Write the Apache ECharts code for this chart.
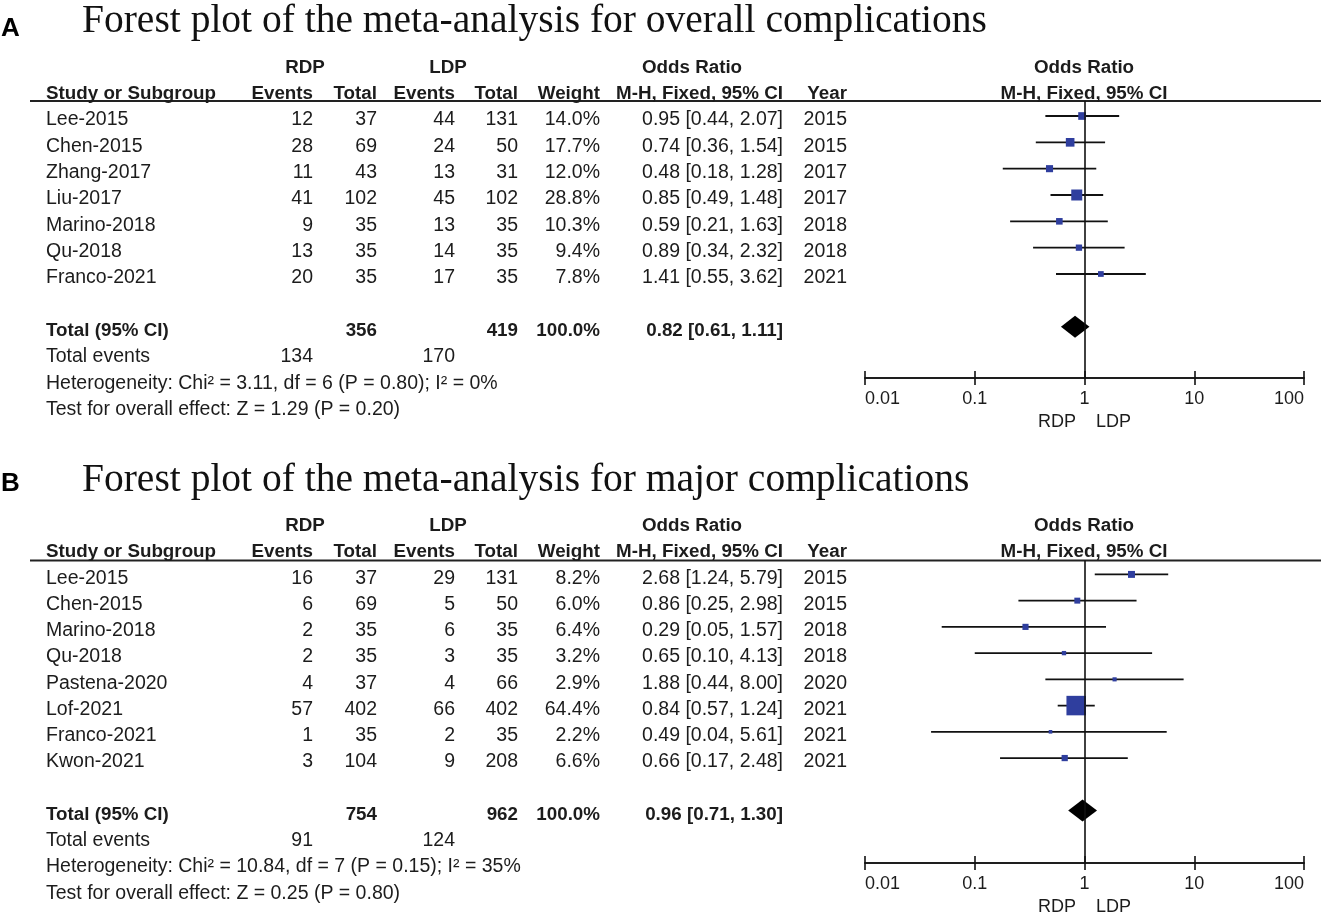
<!DOCTYPE html>
<html><head><meta charset="utf-8">
<script src="https://cdn.jsdelivr.net/npm/echarts@6/dist/echarts.min.js"></script>
<style>html,body{margin:0;padding:0;background:#fff}#c{width:1321px;height:917px}</style>
</head><body><div id="c"></div><script>
// ---------------- DATA ----------------
const studiesA   = ['Lee-2015','Chen-2015','Zhang-2017','Liu-2017','Marino-2018','Qu-2018','Franco-2021'];
const rdpEventsA = [12, 28, 11, 41, 9, 13, 20];
const rdpTotalA  = [37, 69, 43, 102, 35, 35, 35];
const ldpEventsA = [44, 24, 13, 45, 13, 14, 17];
const ldpTotalA  = [131, 50, 31, 102, 35, 35, 35];
const weightA    = [14.0, 17.7, 12.0, 28.8, 10.3, 9.4, 7.8];
const orA        = [0.95, 0.74, 0.48, 0.85, 0.59, 0.89, 1.41];
const loA        = [0.44, 0.36, 0.18, 0.49, 0.21, 0.34, 0.55];
const hiA        = [2.07, 1.54, 1.28, 1.48, 1.63, 2.32, 3.62];
const yearA      = [2015, 2015, 2017, 2017, 2018, 2018, 2021];
const totalCiA   = [0.82, 0.61, 1.11];      // OR, lower, upper
const totalNA    = [356, 419];              // RDP total, LDP total
const totalEvA   = [134, 170];              // RDP events, LDP events
const hetA  = 'Heterogeneity: Chi\u00b2 = 3.11, df = 6 (P = 0.80); I\u00b2 = 0%';
const testA = 'Test for overall effect: Z = 1.29 (P = 0.20)';
const titleA = 'Forest plot of the meta-analysis for overall complications';

const studiesB   = ['Lee-2015','Chen-2015','Marino-2018','Qu-2018','Pastena-2020','Lof-2021','Franco-2021','Kwon-2021'];
const rdpEventsB = [16, 6, 2, 2, 4, 57, 1, 3];
const rdpTotalB  = [37, 69, 35, 35, 37, 402, 35, 104];
const ldpEventsB = [29, 5, 6, 3, 4, 66, 2, 9];
const ldpTotalB  = [131, 50, 35, 35, 66, 402, 35, 208];
const weightB    = [8.2, 6.0, 6.4, 3.2, 2.9, 64.4, 2.2, 6.6];
const orB        = [2.68, 0.86, 0.29, 0.65, 1.88, 0.84, 0.49, 0.66];
const loB        = [1.24, 0.25, 0.05, 0.10, 0.44, 0.57, 0.04, 0.17];
const hiB        = [5.79, 2.98, 1.57, 4.13, 8.00, 1.24, 5.61, 2.48];
const yearB      = [2015, 2015, 2018, 2018, 2020, 2021, 2021, 2021];
const totalCiB   = [0.96, 0.71, 1.30];
const totalNB    = [754, 962];
const totalEvB   = [91, 124];
const hetB  = 'Heterogeneity: Chi\u00b2 = 10.84, df = 7 (P = 0.15); I\u00b2 = 35%';
const testB = 'Test for overall effect: Z = 0.25 (P = 0.80)';
const titleB = 'Forest plot of the meta-analysis for major complications';

const axisTicks = [0.01, 0.1, 1, 10, 100];
const groupLabels = ['RDP', 'LDP'];

// ---------------- LAYOUT / STYLE ----------------
const FONT = "'Liberation Sans', Arial, Helvetica, sans-serif";
const FS = 19.5, FSB = 18.8;
const TXT = '#1c1c1c';
const BLUE = '#2f3e9e';
const ROW = 26.33;
const PLOT_LEFT = 865, PLOT_RIGHT = 1304;
const COL = {name:46, rdpE:313, rdpT:377, ldpE:455, ldpT:518, weight:600, or:783, year:847,
             rdpHead:305, ldpHead:448, orHead:692, plotHead:1084};

const panels = [
  {studies:studiesA, rE:rdpEventsA, rT:rdpTotalA, lE:ldpEventsA, lT:ldpTotalA, w:weightA, or:orA, lo:loA, hi:hiA, yr:yearA,
   tci:totalCiA, tn:totalNA, tev:totalEvA, het:hetA, test:testA, title:titleA, letter:'A',
   top:101, yMin:-0.57, yMax:9.95, titleY:22, letterY:29, maxSide:11},
  {studies:studiesB, rE:rdpEventsB, rT:rdpTotalB, lE:ldpEventsB, lT:ldpTotalB, w:weightB, or:orB, lo:loB, hi:hiB, yr:yearB,
   tci:totalCiB, tn:totalNB, tev:totalEvB, het:hetB, test:testB, title:titleB, letter:'B',
   top:560.5, yMin:-0.53, yMax:11.0, titleY:481, letterY:484, maxSide:19.5}
];

const fmtOR = (o,l,h) => o.toFixed(2) + ' [' + l.toFixed(2) + ', ' + h.toFixed(2) + ']';

const grids = [], xAxes = [], yAxes = [], series = [], graphics = [];

panels.forEach((p, gi) => {
  const height = (p.yMax - p.yMin) * ROW;
  grids.push({left: PLOT_LEFT, width: PLOT_RIGHT - PLOT_LEFT, top: p.top, height: height});
  const baseX = {
    type:'log', logBase:10, min:axisTicks[0], max:axisTicks[axisTicks.length-1], gridIndex: gi, position:'bottom',
    splitLine:{show:false}, minorTick:{show:false},
    axisLine:{show:true, onZero:false, lineStyle:{color:'#111', width:1.6}},
  };
  xAxes.push(Object.assign({}, baseX, {
    axisTick:{show:true, inside:false, length:7, lineStyle:{color:'#111', width:1.6}},
    axisLabel:{show:true, margin:12, fontFamily:FONT, fontSize:18, color:TXT,
      alignMinLabel:'left', alignMaxLabel:'right',
      formatter: v => String(parseFloat(Number(v).toPrecision(6)))},
    name: groupLabels[0] + '    ' + groupLabels[1], nameLocation:'middle', nameGap:35,
    nameTextStyle:{fontFamily:FONT, fontSize:18, color:TXT}
  }));
  xAxes.push(Object.assign({}, baseX, {
    axisTick:{show:true, inside:true, length:7, lineStyle:{color:'#111', width:1.6}},
    axisLabel:{show:false}
  }));
  yAxes.push({type:'value', gridIndex:gi, inverse:true, min:p.yMin, max:p.yMax, show:false});
  const xi = gi*2;

  // vertical line of no effect
  series.push({type:'line', xAxisIndex:xi, yAxisIndex:gi, data:[], z:1,
    markLine:{silent:true, symbol:'none', label:{show:false}, animation:false,
      lineStyle:{color:'#111', width:1.6, type:'solid'}, data:[{xAxis:1}]}});

  // study CIs + squares
  const maxW = Math.max.apply(null, p.w);
  series.push({type:'custom', xAxisIndex:xi, yAxisIndex:gi, z:3, clip:false,
    encode:{x:0, y:3},
    data: p.studies.map((s,i) => [p.or[i], p.lo[i], p.hi[i], i, p.w[i]]),
    renderItem: (params, api) => {
      const row = api.value(3);
      const a = api.coord([api.value(1), row]), b = api.coord([api.value(2), row]), c = api.coord([api.value(0), row]);
      const s = Math.max(3.5, p.maxSide * Math.sqrt(api.value(4) / maxW));
      return {type:'group', children:[
        {type:'line', shape:{x1:a[0], y1:a[1], x2:b[0], y2:b[1]}, style:{stroke:'#111', lineWidth:1.8}},
        {type:'rect', shape:{x:c[0]-s/2, y:c[1]-s/2, width:s, height:s}, style:{fill:BLUE}}
      ]};
    }});

  // pooled diamond
  const n = p.studies.length;
  series.push({type:'custom', xAxisIndex:xi, yAxisIndex:gi, z:4, clip:false,
    encode:{x:0, y:3},
    data: [[p.tci[0], p.tci[1], p.tci[2], n + 1]],
    renderItem: (params, api) => {
      const row = api.value(3);
      const a = api.coord([api.value(1), row]), b = api.coord([api.value(2), row]), c = api.coord([api.value(0), row]);
      return {type:'polygon', shape:{points:[[a[0],a[1]],[c[0],c[1]-11],[b[0],b[1]],[c[0],c[1]+11]]}, style:{fill:'#000'}};
    }});

  // table text rows
  const textRows = [];
  const T = (t, x, align, bold) => ({t:String(t), x:x, align:align||'right', bold:!!bold});
  textRows.push({row:-2, cells:[T(groupLabels[0], COL.rdpHead,'center',true), T(groupLabels[1], COL.ldpHead,'center',true),
    T('Odds Ratio', COL.orHead,'center',true), T('Odds Ratio', COL.plotHead,'center',true)]});
  textRows.push({row:-1, cells:[T('Study or Subgroup', COL.name,'left',true), T('Events', COL.rdpE,'right',true),
    T('Total', COL.rdpT,'right',true), T('Events', COL.ldpE,'right',true), T('Total', COL.ldpT,'right',true),
    T('Weight', COL.weight,'right',true), T('M-H, Fixed, 95% CI', COL.or,'right',true), T('Year', COL.year,'right',true),
    T('M-H, Fixed, 95% CI', COL.plotHead,'center',true)]});
  p.studies.forEach((s,i) => textRows.push({row:i, cells:[T(s, COL.name,'left'), T(p.rE[i], COL.rdpE), T(p.rT[i], COL.rdpT),
    T(p.lE[i], COL.ldpE), T(p.lT[i], COL.ldpT), T(p.w[i].toFixed(1)+'%', COL.weight),
    T(fmtOR(p.or[i], p.lo[i], p.hi[i]), COL.or), T(p.yr[i], COL.year)]}));
  textRows.push({row:n+1, cells:[T('Total (95% CI)', COL.name,'left',true), T(p.tn[0], COL.rdpT,'right',true),
    T(p.tn[1], COL.ldpT,'right',true), T('100.0%', COL.weight,'right',true),
    T(fmtOR(p.tci[0], p.tci[1], p.tci[2]), COL.or,'right',true)]});
  textRows.push({row:n+2, cells:[T('Total events', COL.name,'left'), T(p.tev[0], COL.rdpE), T(p.tev[1], COL.ldpE)]});
  textRows.push({row:n+3, cells:[T(p.het, COL.name,'left')]});
  textRows.push({row:n+4, cells:[T(p.test, COL.name,'left')]});

  series.push({type:'custom', xAxisIndex:xi, yAxisIndex:gi, z:5, clip:false, silent:true,
    encode:{x:0, y:1},
    data: textRows.map((r, k) => [1, r.row, k]),
    renderItem: (params, api) => {
      const r = textRows[api.value(2)];
      const y = api.coord([1, api.value(1)])[1] + 4;
      return {type:'group', children: r.cells.map(c => ({type:'text', style:{
        text:c.t, x:c.x, y:y, align:c.align, verticalAlign:'middle',
        font:(c.bold ? 'bold ' + FSB : FS) + 'px ' + FONT, fill:TXT}}))};
    }});

  // header rule, title, panel letter
  graphics.push({type:'line', shape:{x1:30, y1:p.top, x2:1321, y2:p.top}, style:{stroke:'#222', lineWidth:2}});
  graphics.push({type:'text', style:{text:p.title, x:82, y:p.titleY, verticalAlign:'middle',
    font:"39.5px 'Liberation Serif', 'Times New Roman', serif", fill:'#111'}});
  graphics.push({type:'text', style:{text:p.letter, x:1, y:p.letterY, verticalAlign:'middle',
    font:"bold 26px " + FONT, fill:'#000'}});
});

const chart = echarts.init(document.getElementById('c'), null, {renderer:'canvas'});
chart.setOption({
  animation:false,
  backgroundColor:'#fff',
  grid: grids, xAxis: xAxes, yAxis: yAxes, series: series, graphic: graphics
});
</script></body></html>
